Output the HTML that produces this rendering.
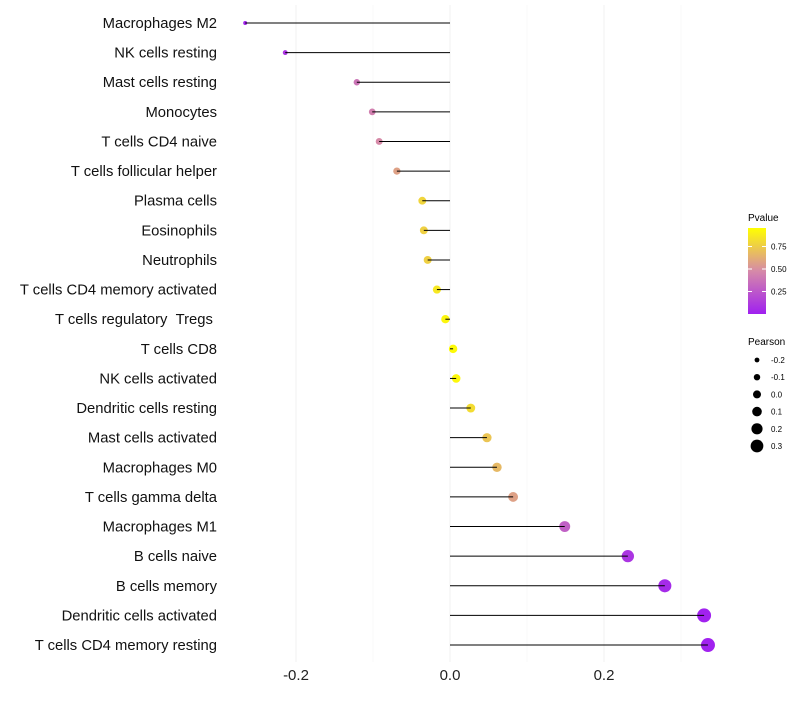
<!DOCTYPE html>
<html><head><meta charset="utf-8"><style>
body{margin:0;background:#fff;}
svg{font-family:"Liberation Sans",sans-serif;}
</style></head><body>
<svg id="chart" width="800" height="700">
<defs><linearGradient id="pg" x1="0" y1="1" x2="0" y2="0">
<stop offset="0" stop-color="#a020f0"/><stop offset="0.5" stop-color="#d68aa8"/><stop offset="1" stop-color="#ffff00"/>
</linearGradient></defs>
<g id="grid"></g><g id="points"></g><g id="marks"></g><g id="ylabels"></g><g id="xticks"></g>
<g id="legend">
<text x="748" y="221" font-size="10">Pvalue</text>
<rect x="748" y="228" width="18" height="86" fill="url(#pg)"/>
<g id="cbticks"></g>
<text x="748" y="345" font-size="10">Pearson</text>
<g id="sizeleg"></g>
</g>
</svg>
<script>
const categories=["Macrophages M2","NK cells resting","Mast cells resting","Monocytes","T cells CD4 naive","T cells follicular helper","Plasma cells","Eosinophils","Neutrophils","T cells CD4 memory activated","T cells regulatory \u00a0Tregs\u00a0","T cells CD8","NK cells activated","Dendritic cells resting","Mast cells activated","Macrophages M0","T cells gamma delta","Macrophages M1","B cells naive","B cells memory","Dendritic cells activated","T cells CD4 memory resting"];
const pearson=[-0.266,-0.214,-0.121,-0.101,-0.092,-0.069,-0.036,-0.034,-0.029,-0.017,-0.006,0.004,0.008,0.027,0.048,0.061,0.082,0.149,0.231,0.279,0.330,0.335];
const pvalue=[0.02,0.1,0.4,0.45,0.5,0.6,0.82,0.8,0.8,0.9,0.96,0.98,0.97,0.85,0.75,0.7,0.6,0.3,0.1,0.05,0.01,0.01];
const xTicks=[-0.2,0,0.2];
const xMinor=[-0.1,0.1,0.3];
const cbTicks=[0.25,0.5,0.75];
const sizeLegend=[-0.2,-0.1,0,0.1,0.2,0.3];
const NS="http://www.w3.org/2000/svg";
const X=v=>450+v*770;
const Y=i=>23+i*29.62;
const R=v=>2+(v+0.266)/0.6*5;
const CB=p=>314-p*90;
function lerp(a,b,t){return a.map((x,k)=>Math.round(x+(b[k]-x)*t));}
function col(p){const s=[[160,32,240],[214,138,168],[255,255,0]];const c=p<0.5?lerp(s[0],s[1],p/0.5):lerp(s[1],s[2],(p-0.5)/0.5);return `rgb(${c})`;}
function mk(tag,attrs,parent){const e=document.createElementNS(NS,tag);for(const k in attrs)e.setAttribute(k,attrs[k]);document.getElementById(parent).appendChild(e);return e;}
xMinor.forEach(v=>{const l=mk('line',{x1:X(v),x2:X(v),y1:5,y2:662,stroke:'#f7f7f7','stroke-width':0.6},'grid');

});
xTicks.forEach(v=>{const l=mk('line',{x1:X(v),x2:X(v),y1:5,y2:662,stroke:'#f0f0f0','stroke-width':1},'grid');


const t=mk('text',{x:X(v),y:680,'font-size':15,'text-anchor':'middle',fill:'#222'},'xticks');t.textContent=v===0?'0.0':v.toFixed(1);

});
categories.forEach((c,i)=>{
const d=mk('circle',{cx:X(pearson[i]),cy:Y(i),r:R(pearson[i]),fill:col(pvalue[i])},'points');


const l=mk('line',{x1:X(0),x2:X(pearson[i]),y1:Y(i),y2:Y(i),stroke:'#000','stroke-width':1},'marks');


const t=mk('text',{x:217,y:Y(i)+5,'font-size':14.8,'text-anchor':'end',fill:'#111'},'ylabels');t.textContent=c;

});
cbTicks.forEach(p=>{const l=mk('line',{x1:748,x2:752,y1:CB(p),y2:CB(p),stroke:'#fff'},'cbticks');


const l2=mk('line',{x1:762,x2:766,y1:CB(p),y2:CB(p),stroke:'#fff'},'cbticks');


const t=mk('text',{x:771,y:CB(p)+3,'font-size':8},'cbticks');t.textContent=p.toFixed(2);

});
sizeLegend.forEach((v,i)=>{const y=360+i*17.2;
const c=mk('circle',{cx:757,cy:y,r:R(v)*0.95,fill:'#000'},'sizeleg');


const t=mk('text',{x:771,y:y+3,'font-size':8},'sizeleg');t.textContent=v.toFixed(1);

});
</script>
</body></html>
